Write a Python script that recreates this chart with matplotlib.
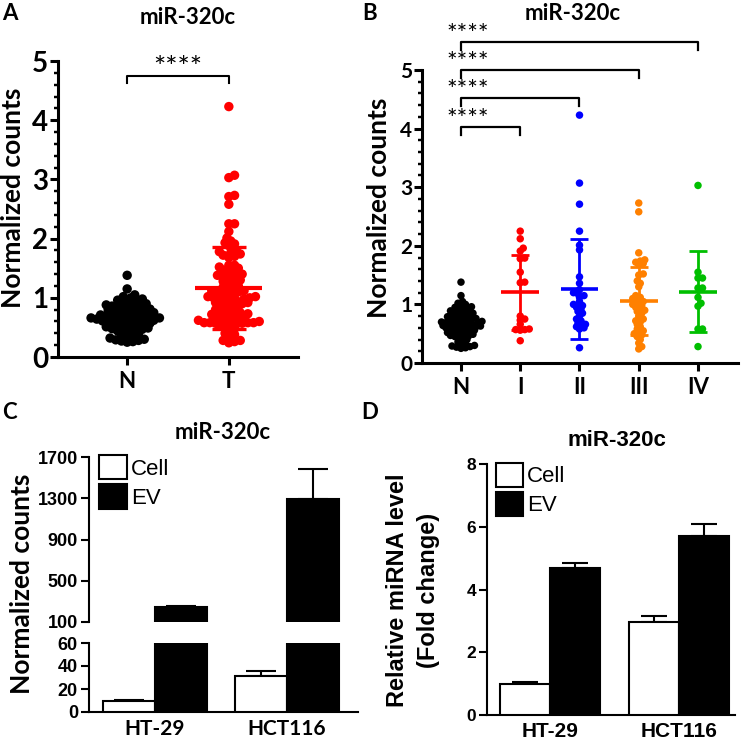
import numpy as np
import matplotlib
matplotlib.use('Agg')
import matplotlib.pyplot as plt
from matplotlib.ticker import MultipleLocator, FixedLocator

calibri = ['Lato', 'DejaVu Sans']
arial = ['Liberation Sans', 'DejaVu Sans']
plt.rcParams['font.family'] = calibri

# ---- données ----
normal = [1.38, 1.15, 1.05, 1.02, 1.00, 0.98, 0.96, 0.95, 0.93, 0.92, 0.90, 0.89,
          0.88, 0.87, 0.86, 0.85, 0.84, 0.83, 0.82, 0.81, 0.80, 0.79, 0.78, 0.77,
          0.76, 0.75, 0.75, 0.74, 0.73, 0.72, 0.71, 0.70, 0.70, 0.69, 0.68, 0.68,
          0.67, 0.66, 0.66, 0.65, 0.64, 0.64, 0.63, 0.62, 0.62, 0.61, 0.60, 0.60,
          0.59, 0.58, 0.57, 0.56, 0.55, 0.54, 0.53, 0.52, 0.51, 0.50, 0.49, 0.48,
          0.47, 0.46, 0.45, 0.44, 0.42, 0.40, 0.38, 0.36, 0.34, 0.32, 0.30, 0.29,
          0.28, 0.27, 0.26, 0.25]
stage_1 = [2.25, 2.12, 1.96, 1.91, 1.79, 1.78, 1.55, 1.38, 1.37, 0.80, 0.75, 0.73,
           0.66, 0.58, 0.57, 0.57, 0.56, 0.38]
stage_2 = [4.23, 3.07, 2.71, 2.25, 2.01, 1.93, 1.47, 1.36, 1.25, 1.20, 1.18, 1.15,
           1.12, 1.05, 1.00, 0.98, 0.95, 0.92, 0.88, 0.85, 0.80, 0.75, 0.72, 0.68,
           0.66, 0.64, 0.62, 0.60, 0.58, 0.26]
stage_3 = [2.73, 2.58, 1.88, 1.76, 1.74, 1.72, 1.70, 1.68, 1.52, 1.50, 1.40, 1.36,
           1.30, 1.15, 1.12, 1.10, 1.08, 1.05, 1.02, 1.00, 0.98, 0.95, 0.92, 0.90,
           0.88, 0.85, 0.80, 0.75, 0.72, 0.70, 0.66, 0.62, 0.58, 0.55, 0.52, 0.50,
           0.48, 0.45, 0.40, 0.34, 0.28, 0.24]
stage_4 = [3.03, 1.55, 1.45, 1.45, 1.28, 1.28, 1.12, 1.02, 0.97, 0.58, 0.58, 0.28]
tumour = stage_1 + stage_2 + stage_3 + stage_4

groups_A = ['N', 'T']
stage_labels = ['N', 'I', 'II', 'III', 'IV']
stage_colors = ['black', '#FF0000', '#0000FF', '#FF8000', '#00BF00']

cell_lines = ['HT-29', 'HCT116']
counts_cell = [10, 31]
counts_cell_err = [0.5, 5]
counts_ev = [250, 1290]
counts_ev_err = [10, 295]
fold_cell = [1.0, 2.97]
fold_cell_err = [0.05, 0.18]
fold_ev = [4.68, 5.72]
fold_ev_err = [0.17, 0.37]

W, H = 749, 744
fig = plt.figure(figsize=(W / 100, H / 100), dpi=100)


def add_ax(l, t, r, b):
    # position en pixels (gauche, haut, droite, bas)
    return fig.add_axes([l / W, 1 - b / H, (r - l) / W, (b - t) / H])


def ftext(x, y, s, **kw):
    return fig.text(x / W, 1 - y / H, s, ha='center', va='center', **kw)


def swarm(ax, x0, values, diam, frac):
    # essaim compact: on décale les points horizontalement (pixels)
    p0 = ax.transData.transform((0, 0))
    px = ax.transData.transform((1, 1)) - p0
    ys = np.array(values) * px[1]
    dmin = diam * frac
    step = dmin * 0.4
    placed = []
    xs = np.zeros(len(values))
    for i in np.argsort(values):
        k = 0
        while True:
            off = ((k + 1) // 2) * step * (1 if k % 2 else -1)
            if all((off - a) ** 2 + (ys[i] - b) ** 2 >= dmin ** 2 for a, b in placed):
                break
            k += 1
        placed.append((off, ys[i]))
        xs[i] = x0 + off / px[0]
    return xs


def style_scatter_ax(ax, lw):
    for s in ['top', 'right']:
        ax.spines[s].set_visible(False)
    for s in ['left', 'bottom']:
        ax.spines[s].set_linewidth(lw)
    ax.set_ylim(0, 5)
    ax.yaxis.set_major_locator(MultipleLocator(1))
    ax.yaxis.set_minor_locator(MultipleLocator(0.2))
    ax.tick_params(axis='both', which='major', direction='out', length=6, width=lw)
    ax.tick_params(axis='y', which='minor', direction='out', length=3, width=lw * 0.8)


def mean_sd(ax, x, vals, color, hw, cap, lw):
    m = np.mean(vals)
    sd = np.std(vals, ddof=1)
    ax.errorbar([x], [m], yerr=[sd], fmt='none', ecolor=color, elinewidth=lw,
                capsize=cap, capthick=lw, zorder=4)
    ax.hlines(m, x - hw, x + hw, color=color, lw=lw + 0.6, zorder=4)


# ---------------- A ----------------
axA = add_ax(58, 61, 298, 357)
axA.set_xlim(0.32, 2.68)
style_scatter_ax(axA, 2.2)
axA.set_xticks([1, 2])
axA.set_xticklabels(groups_A, fontsize=16, fontweight='bold')
axA.tick_params(axis='x', pad=4)
axA.tick_params(axis='y', which='major', labelsize=20, pad=1)
for lab in axA.get_yticklabels():
    lab.set_fontweight('bold')
for i, (vals, col) in enumerate([(normal, 'black'), (tumour, '#FF0000')]):
    xs = swarm(axA, i + 1, vals, 9.5, 0.5)
    axA.scatter(xs, vals, s=46, color=col, edgecolors='none', zorder=3, clip_on=False)
    mean_sd(axA, i + 1, vals, col, 0.33, 12, 2.4)
axA.plot([1, 1, 2, 2], [4.63, 4.75, 4.75, 4.63], color='black', lw=1.5, clip_on=False)
axA.text(1.5, 4.86, '****', ha='center', va='center', fontsize=21)

# ---------------- B ----------------
axB = add_ax(422, 70, 738, 363)
axB.set_xlim(0.342, 5.675)
style_scatter_ax(axB, 2.2)
axB.set_xticks(range(1, 6))
axB.set_xticklabels(stage_labels, fontsize=16, fontweight='bold')
axB.tick_params(axis='x', pad=4)
axB.tick_params(axis='y', which='major', labelsize=15, pad=1)
for lab in axB.get_yticklabels():
    lab.set_fontweight('bold')
stage_data = [normal, stage_1, stage_2, stage_3, stage_4]
for i, (vals, col) in enumerate(zip(stage_data, stage_colors)):
    xs = swarm(axB, i + 1, vals, 7.5, 0.5)
    axB.scatter(xs, vals, s=29, color=col, edgecolors='none', zorder=3, clip_on=False)
    mean_sd(axB, i + 1, vals, col, 0.32, 6.5, 2.0)
bracket_y = [4.03, 4.52, 5.0, 5.48]
for j, yb in enumerate(bracket_y):
    x2 = j + 2
    axB.plot([1, 1, x2, x2], [yb - 0.14, yb, yb, yb - 0.14], color='black', lw=1.6,
             clip_on=False)
    axB.text(0.76, yb + 0.13, '****', ha='left', va='center', fontsize=18)

# ---------------- C ----------------
axCt = add_ax(89, 457, 358, 622)
axCb = add_ax(89, 643, 358, 712)
xpos = np.arange(len(cell_lines))
bw = 0.395
for ax in (axCt, axCb):
    ax.bar(xpos - bw / 2, counts_cell, bw, color='white', edgecolor='black', lw=1.5,
           label='Cell', zorder=3)
    ax.bar(xpos + bw / 2, counts_ev, bw, color='black', edgecolor='black', lw=1.5,
           label='EV', zorder=3)
    ax.errorbar(xpos - bw / 2, counts_cell, yerr=[[0, 0], counts_cell_err], fmt='none',
                ecolor='black', elinewidth=1.5, capsize=11, capthick=1.5, zorder=2)
    ax.errorbar(xpos + bw / 2, counts_ev, yerr=[[0, 0], counts_ev_err], fmt='none',
                ecolor='black', elinewidth=1.5, capsize=11, capthick=1.5, zorder=2)
    ax.set_xlim(-0.5, 1.54)
    for s in ['top', 'right']:
        ax.spines[s].set_visible(False)
    for s in ['left', 'bottom']:
        ax.spines[s].set_linewidth(1.5)
    ax.tick_params(axis='y', direction='out', length=6, width=1.5, labelsize=13, pad=2)
axCt.set_ylim(100, 1700)
axCt.yaxis.set_major_locator(FixedLocator([100, 500, 900, 1300, 1700]))
axCt.spines['bottom'].set_visible(False)
axCt.set_xticks([])
axCb.set_ylim(0, 60)
axCb.yaxis.set_major_locator(FixedLocator([0, 20, 40, 60]))
axCb.set_xticks(xpos)
axCb.set_xticklabels(cell_lines, fontsize=15, fontweight='bold')
axCb.tick_params(axis='x', length=0, pad=5)
for ax in (axCt, axCb):
    for lab in ax.get_yticklabels():
        lab.set_family(arial)
        lab.set_fontweight('bold')
axCt.legend(loc='upper left', bbox_to_anchor=(99 / W, 1 - 455 / H),
            bbox_transform=fig.transFigure, frameon=False,
            prop={'family': arial, 'size': 16}, handlelength=1.25, handleheight=1.3,
            labelspacing=0.22, handletextpad=0.2, borderpad=0, borderaxespad=0)

# ---------------- D ----------------
axD = add_ax(487, 464, 735, 715)
xposD = np.arange(len(cell_lines))
bwD = 0.39
axD.bar(xposD - bwD / 2, fold_cell, bwD, color='white', edgecolor='black', lw=1.5,
        label='Cell', zorder=3)
axD.bar(xposD + bwD / 2, fold_ev, bwD, color='black', edgecolor='black', lw=1.5,
        label='EV', zorder=3)
axD.errorbar(xposD - bwD / 2, fold_cell, yerr=[[0, 0], fold_cell_err], fmt='none',
             ecolor='black', elinewidth=1.5, capsize=9.7, capthick=1.5, zorder=2)
axD.errorbar(xposD + bwD / 2, fold_ev, yerr=[[0, 0], fold_ev_err], fmt='none',
             ecolor='black', elinewidth=1.5, capsize=9.7, capthick=1.5, zorder=2)
axD.set_xlim(-0.488, 1.434)
axD.set_ylim(0, 8)
axD.yaxis.set_major_locator(MultipleLocator(2))
for s in ['top', 'right']:
    axD.spines[s].set_visible(False)
for s in ['left', 'bottom']:
    axD.spines[s].set_linewidth(1.5)
axD.tick_params(axis='y', direction='out', length=6, width=1.5, labelsize=12.5, pad=2)
axD.set_xticks(xposD)
axD.set_xticklabels(cell_lines, fontsize=15, fontweight='bold', family=arial)
axD.tick_params(axis='x', length=0, pad=5)
for lab in axD.get_yticklabels():
    lab.set_family(arial)
    lab.set_fontweight('bold')
axD.legend(loc='upper left', bbox_to_anchor=(496 / W, 1 - 463 / H),
           bbox_transform=fig.transFigure, frameon=False,
           prop={'family': arial, 'size': 16}, handlelength=1.2, handleheight=1.25,
           labelspacing=0.22, handletextpad=0.2, borderpad=0, borderaxespad=0)

# ---------------- textes ----------------
for lbl, x, y in [('A', 10, 14), ('B', 370, 14), ('C', 9, 413), ('D', 370, 413)]:
    ftext(x, y, lbl, fontsize=16, fontweight='bold')
for x, y in [(188, 17), (573, 13), (223, 432)]:
    ftext(x, y, 'miR-320c', fontsize=16, fontweight='bold')
ftext(617, 440, 'miR-320c', fontsize=16, fontweight='bold', family=arial)
for x, y in [(13, 198), (379, 208), (22, 584)]:
    ftext(x, y, 'Normalized counts', fontsize=19, fontweight='bold', rotation=90)
ftext(397, 590, 'Relative miRNA level', fontsize=17, fontweight='bold', rotation=90,
      family=arial)
ftext(428, 590, '(Fold change)', fontsize=17, fontweight='bold', rotation=90,
      family=arial)

fig.savefig('out.png', dpi=100)
